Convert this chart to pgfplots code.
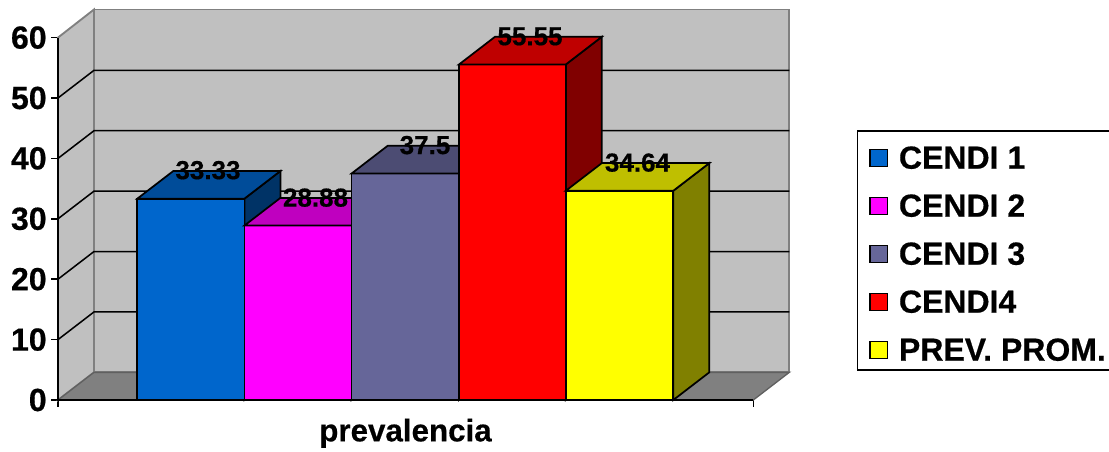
\documentclass[border=0pt]{standalone}
\usepackage{fontspec}
\setmainfont{Liberation Sans}[BoldFeatures={FakeBold=0.5}]
\usepackage{pgfplots}
\pgfplotsset{compat=1.18}

\definecolor{wall}{HTML}{C0C0C0}
\definecolor{floorgray}{HTML}{808080}
\definecolor{cA}{HTML}{0066CC}\definecolor{cAt}{HTML}{004C99}\definecolor{cAs}{HTML}{003366}
\definecolor{cB}{HTML}{FF00FF}\definecolor{cBt}{HTML}{BF00BF}\definecolor{cBs}{HTML}{800080}
\definecolor{cC}{HTML}{666699}\definecolor{cCt}{HTML}{4C4C73}\definecolor{cCs}{HTML}{33334D}
\definecolor{cD}{HTML}{FF0000}\definecolor{cDt}{HTML}{BF0000}\definecolor{cDs}{HTML}{800000}
\definecolor{cE}{HTML}{FFFF00}\definecolor{cEt}{HTML}{BFBF00}\definecolor{cEs}{HTML}{808000}

% One cuboid: front left, front right, back left, back right, value, value at the back, colour stem
\newcommand{\cuboid}[7]{%
  \addplot[forget plot,fill=#7s,draw=black,line width=1.3pt] coordinates {(#2,0)(#4,4.58)(#4,#6)(#2,#5)} -- cycle;
  \addplot[forget plot,fill=#7,draw=black,line width=1.3pt] coordinates {(#1,0)(#2,0)(#2,#5)(#1,#5)} -- cycle;
  \addplot[forget plot,fill=#7t,draw=black,line width=1.3pt] coordinates {(#1,#5)(#2,#5)(#4,#6)(#3,#6)} -- cycle;
}
\newcommand{\backline}[2]{%
  \addplot[forget plot,black,line width=1.15pt] coordinates {(58,#1)(94,#2)(789.3,#2)};
}
\tikzset{barlabel/.style={font=\fontsize{19.5}{21}\bfseries\selectfont,inner sep=0pt,anchor=center}}

\begin{document}
\begin{tikzpicture}
\useasboundingbox (0,0) rectangle (831.75pt,338.25pt);
\begin{axis}[
  at={(43.5pt,38.25pt)}, anchor=south west,
  scale only axis, width=548.475pt, height=292.875pt,
  xmin=58, xmax=789.3, ymin=0, ymax=64.65,
  clip=false,
  axis line style={draw=none},
  tick align=outside, major tick length=5pt,
  tick style={black,line width=1.15pt},
  xtick={58,753.3}, xticklabels={},
  ytick={0,10,20,30,40,50,60},
  axis x line*=bottom, axis y line*=left,
  /pgf/number format/assume math mode=true,
  tick label style={font=\fontsize{24}{26}\bfseries\selectfont},
  xlabel={prevalencia},
  xlabel style={at={(axis cs:405.5,-5.5)},anchor=center,font=\fontsize{23.5}{25}\bfseries\selectfont},
  legend cell align=left,
  legend style={
    at={(axis cs:869,42.2)}, anchor=north west, draw=none, fill=none,
    inner sep=0pt, row sep=0pt,
    font=\fontsize{24}{25}\bfseries\selectfont,
    nodes={inner sep=0pt,text height=17.5pt,text depth=18.5pt},
  },
  legend image code/.code={%
    \draw[#1,line width=1.15pt] (0pt,2pt) rectangle (13pt,15pt);
    \path (21.5pt,8pt);},
]
% Walls and floor of the chart box
\addplot[forget plot,fill=wall,draw=floorgray,line width=1.4pt] coordinates {(94,4.58)(789.3,4.58)(789.3,64.65)(94,64.65)} -- cycle;
\addplot[forget plot,fill=wall,draw=floorgray,line width=1.4pt] coordinates {(58,0)(94,4.58)(94,64.65)(58,60)} -- cycle;
\addplot[forget plot,fill=floorgray,draw=floorgray!75!black,line width=1pt] coordinates {(58,0)(753.3,0)(789.3,4.58)(94,4.58)} -- cycle;
% Gridlines along the side wall and the back wall
\backline{10}{14.58}
\backline{20}{24.58}
\backline{30}{34.58}
\backline{40}{44.58}
\backline{50}{54.58}
% Axis lines
\addplot[forget plot,black,line width=1.4pt] coordinates {(58,60)(58,0)(753.3,0)};
% The five bars, left to right so that each one covers its neighbour's side
\cuboid{137.3}{244.4}{173.3}{280.4}{33.33}{37.91}{cA}
\cuboid{244.4}{351.6}{280.4}{387.6}{28.88}{33.46}{cB}
\cuboid{351.6}{459.0}{387.6}{495.0}{37.5}{42.08}{cC}
\cuboid{459.0}{565.8}{495.0}{601.8}{55.55}{60.13}{cD}
\cuboid{565.8}{673.3}{601.8}{709.3}{34.64}{39.22}{cE}
% Value labels
\node[barlabel] at (axis cs:208,38.05) {33.33};
\node[barlabel] at (axis cs:315.5,33.5) {28.88};
\node[barlabel] at (axis cs:425,42.2) {37.5};
\node[barlabel] at (axis cs:530,60.2) {55.55};
\node[barlabel] at (axis cs:637.5,39.3) {34.64};
% Legend
\addlegendimage{fill=cA,draw=black}\addlegendentry{CENDI 1}
\addlegendimage{fill=cB,draw=black}\addlegendentry{CENDI 2}
\addlegendimage{fill=cC,draw=black}\addlegendentry{CENDI 3}
\addlegendimage{fill=cD,draw=black}\addlegendentry{CENDI4}
\addlegendimage{fill=cE,draw=black}\addlegendentry{PREV. PROM.}
\end{axis}
% Legend frame, running off the right edge
\draw[black,line width=1.15pt] (831.75pt,240pt) -- (643pt,240pt) -- (643pt,60.75pt) -- (831.75pt,60.75pt);
\end{tikzpicture}
\end{document}
